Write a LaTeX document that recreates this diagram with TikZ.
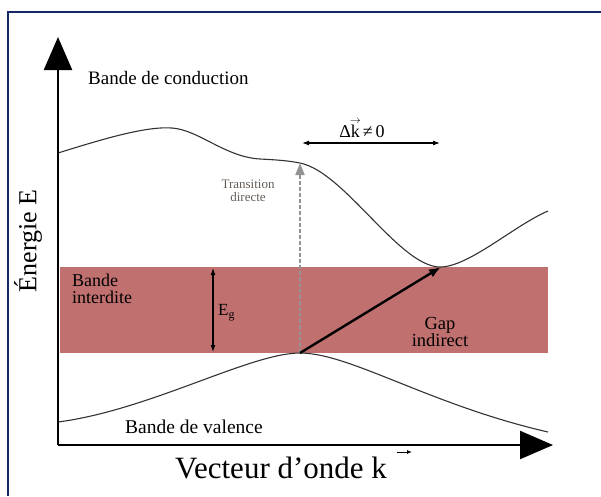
\documentclass[tikz,border=0pt]{standalone}
\usepackage{fontspec}
\setmainfont{Liberation Serif}
\usetikzlibrary{arrows.meta,positioning}
\definecolor{bandRed}{RGB}{193,112,112}
\definecolor{frameBlue}{RGB}{22,42,104}
\definecolor{trGray}{RGB}{100,92,86}
\newcommand\veck{\rlap{\kern-1pt\raisebox{14pt}{\fontsize{11}{11}\selectfont$\rightarrow$}}k}
\begin{document}
\begin{tikzpicture}[
  x=1pt,y=-1pt,
  lbl/.style={inner sep=0pt,align=left},
  axis/.style={line width=2.4pt,-{Triangle[length=33pt,width=28pt]}},
  curve/.style={line width=1.1pt,black!80},
  arr/.style={-{Latex[length=12pt,width=9pt]},line width=2.4pt},
  dblarr/.style={{Latex[length=7pt,width=5pt]}-{Latex[length=7pt,width=5pt]},line width=1.1pt},
  dasharr/.style={-{Triangle[length=12pt,width=9pt]},line width=2pt,gray!85,dash pattern=on 4pt off 2pt}]
  \useasboundingbox (0,0) rectangle (601,496);
  % frame
  \draw[frameBlue,line width=2.2pt] (8,496) -- (8,12) -- (601,12);
  % forbidden band
  \fill[bandRed] (60,267) rectangle (548,353);
  % points
  \coordinate (orig) at (58,445);
  \coordinate (ytop) at (58,37);
  \coordinate (xend) at (553,445);
  \coordinate (vmax) at (300,353);
  \coordinate (cdir) at (300,163);
  \coordinate (cmin) at (441,267);
  \coordinate (gtop) at (213,268);
  \coordinate (gbot) at (213,352);
  \coordinate (dkl) at (302,143);
  \coordinate (dkr) at (440,143);
  \coordinate (kvl) at (397,452);
  \coordinate (kvr) at (412,452);
  % bands
  \draw[curve] (58,153) .. controls (100,140) and (145,126) .. (172,128)
    .. controls (199,130) and (225,157) .. (260,159)
    .. controls (280,160) and (290,161) .. (cdir)
    .. controls (345,172) and (400,268) .. (cmin)
    .. controls (470,266) and (515,225) .. (548,211);
  \draw[curve] (58,422) .. controls (150,410) and (250,353) .. (vmax)
    .. controls (350,353) and (430,405) .. (548,432);
  % axes
  \draw[axis] (orig) -- (ytop);
  \draw[axis] (orig) -- (xend);
  % transitions
  \draw[dasharr] (vmax) -- (cdir);
  \draw[arr] (vmax) -- (cmin);
  \draw[dblarr] (gtop) -- (gbot);
  \draw[dblarr] (dkl) -- (dkr);
  \draw[-{Latex[length=5pt,width=4pt]},line width=0.9pt] (kvl) -- (kvr);
  % labels
  \node[lbl,anchor=west,font=\fontsize{19}{20}\selectfont] (cond) at (88,78) {Bande de conduction};
  \node[lbl,anchor=west,font=\fontsize{19.5}{20}\selectfont] (val) at (125,427) {Bande de valence};
  \node[lbl,anchor=north west,font=\fontsize{18}{16.5}\selectfont] (inter) at (72,274) {Bande\\interdite};
  \node[lbl,align=center,font=\fontsize{18.5}{17}\selectfont] (gap) at (440,332) {Gap\\indirect};
  \node[lbl,anchor=west,font=\fontsize{17}{20}\selectfont] (eg) at (218,313) {E\textsubscript{g}};
  \node[lbl,align=center,trGray,font=\fontsize{13}{12.5}\selectfont] (trans) at (248,191) {Transition\\directe};
  \node[lbl,anchor=base,font=\fontsize{18}{18}\selectfont] (dk) at (362,137) {Δ\veck\,≠\,0};
  \node[lbl,font=\fontsize{31}{32}\selectfont] (xlab) at (281,468) {Vecteur d’onde k};
  \node[lbl,rotate=90,font=\fontsize{26}{28}\selectfont] (ylab) at (28,241) {Énergie E};
\end{tikzpicture}
\end{document}
